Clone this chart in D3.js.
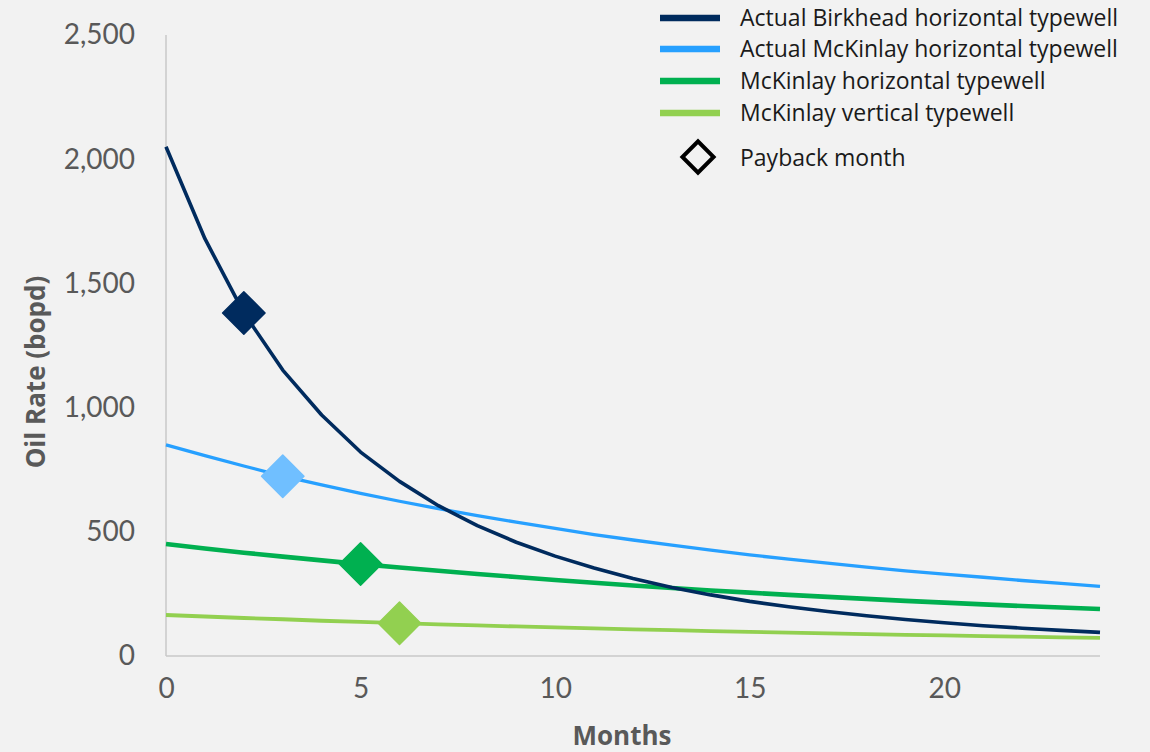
<!DOCTYPE html>
<html><head><meta charset="utf-8">
<script src="https://cdn.jsdelivr.net/npm/d3@7"></script>
<style>
html,body{margin:0;padding:0;background:#f2f2f2;}
svg{display:block;}
text{font-family:Lato, "Open Sans", sans-serif;}
</style></head>
<body>
<svg id="chart" width="1150" height="752"></svg>
<script>
const months = d3.range(0, 25);
const birkheadActual = [2050,1680,1381,1151,970,821,703,605,525,458,402,354,312,276,246,220,198,179,162,147,134,122,112,103,95];
const mckinlayActual = [850,807,765,724,689,655,623,593,565,539,514,489,467,446,426,407,390,374,358,343,330,317,304,292,280];
const mckinlayHoriz = [451,433,416,400,385,370,356,343,330,318,306,295,284,274,264,255,246,238,230,222,215,208,201,195,189];
const mckinlayVert = [165,159,153,148,142,137,132,127,123,119,115,111,107,104,100,97,94,91,88,85,83,80,78,75,73];
const seriesNames = ["Actual Birkhead horizontal typewell","Actual McKinlay horizontal typewell","McKinlay horizontal typewell","McKinlay vertical typewell"];
const paybackMonths = [2,3,5,6];
const xTicks = [0,5,10,15,20];
const yTicks = [0,500,1000,1500,2000,2500];

const seriesData = [birkheadActual, mckinlayActual, mckinlayHoriz, mckinlayVert];
const lineColors = ["#002b5e","#27a0ff","#00b050","#92d050"];
const markerColors = ["#002b5e","#70bfff","#00b050","#92d050"];
const lineWidths = [3.6,3.3,4.6,3.8];

const svg = d3.select("#chart");
const x = d3.scaleLinear().domain([0,24]).range([166,1100]);
const y = d3.scaleLinear().domain([0,2500]).range([656,35]);

// axes lines
svg.append("line").attr("x1",x(0)).attr("x2",x(0)).attr("y1",y(2500)).attr("y2",y(0))
  .attr("stroke","#c8c8c8").attr("stroke-width",1.5);
svg.append("line").attr("x1",x(0)).attr("x2",x(24)).attr("y1",y(0)).attr("y2",y(0))
  .attr("stroke","#c8c8c8").attr("stroke-width",1.5);

// y axis labels
const yAxis = d3.axisLeft(y).tickValues(yTicks).tickFormat(d3.format(",")).tickSize(0).tickPadding(31);
const gy = svg.append("g").attr("transform",`translate(${x(0)},0)`).call(yAxis);
gy.select(".domain").remove();
gy.selectAll("text").attr("fill","#595959").style("font-size","28px").style("font-family","Lato, sans-serif");

const xAxis = d3.axisBottom(x).tickValues(xTicks).tickSize(0).tickPadding(22);
const gx = svg.append("g").attr("transform",`translate(0,${y(0)})`).call(xAxis);
gx.select(".domain").remove();
gx.selectAll("text").attr("fill","#595959").style("font-size","28px").style("font-family","Lato, sans-serif");

// axis titles
svg.append("text").attr("transform","translate(45,372) rotate(-90)").attr("text-anchor","middle")
  .attr("fill","#595959").style("font-family","'Open Sans', sans-serif").style("font-size","26px").style("font-weight","bold").text("Oil Rate (bopd)");
svg.append("text").attr("x",622).attr("y",745).attr("text-anchor","middle")
  .attr("fill","#595959").style("font-family","'Open Sans', sans-serif").style("font-size","26px").style("font-weight","bold").text("Months");

// lines
const line = d3.line().x((d,i)=>x(months[i])).y(d=>y(d));
const order = [3,2,1,0];
order.forEach(k=>{
  svg.append("path").datum(seriesData[k]).attr("d",line).attr("fill","none")
    .attr("stroke",lineColors[k]).attr("stroke-width",lineWidths[k]).attr("stroke-linejoin","round");
});
// markers
const diamond = d3.symbol().type(d3.symbolSquare).size(30*30);
seriesData.forEach((s,k)=>{
  const m = paybackMonths[k];
  svg.append("path").attr("d",diamond())
    .attr("transform",`translate(${x(m)},${y(s[m])}) rotate(45)`)
    .attr("fill",markerColors[k]).attr("stroke",markerColors[k]).attr("stroke-width",1.5).attr("stroke-linejoin","round");
});

// legend
const legRowsY = [18,49,81,113];
seriesNames.forEach((n,k)=>{
  svg.append("line").attr("x1",660).attr("x2",720).attr("y1",legRowsY[k]).attr("y2",legRowsY[k])
    .attr("stroke",lineColors[k]).attr("stroke-width",6.5);
  svg.append("text").attr("x",740).attr("y",legRowsY[k]+8).attr("fill","#1a1a1a")
    .style("font-family","'Open Sans', sans-serif").style("font-size","23px").text(n);
});
svg.append("path").attr("d",d3.symbol().type(d3.symbolSquare).size(22*22)())
  .attr("transform","translate(698,157) rotate(45)").attr("fill","none").attr("stroke","#000").attr("stroke-width",4);
svg.append("text").attr("x",740).attr("y",166).attr("fill","#1a1a1a")
  .style("font-family","'Open Sans', sans-serif").style("font-size","23px").text("Payback month");
</script>
</body></html>
